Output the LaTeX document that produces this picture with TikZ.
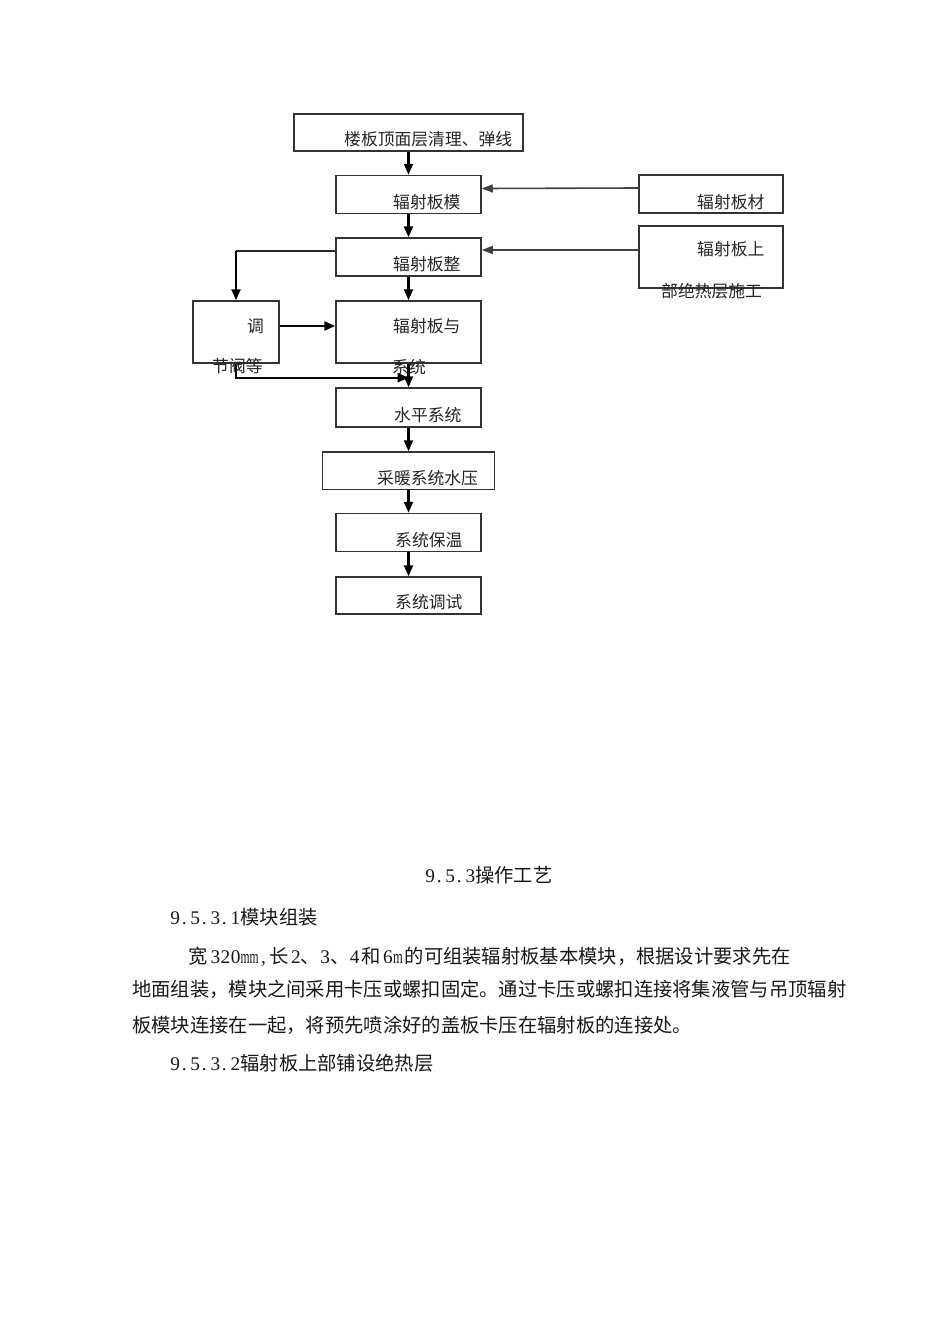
\documentclass[tikz,border=0pt]{standalone}
\usepackage{fontspec}
\setmainfont{Liberation Serif}
\newfontfamily\cjk{Noto Sans CJK SC}
\usetikzlibrary{arrows.meta,calc}
\def\hwchar#1{\ifx.#1\makebox[0.52em][l]{\rmfamily\hspace{0.08em}.}\else\makebox[0.52em][c]{\rmfamily#1}\fi}
\def\hwloop#1{\ifx\relax#1\else\hwchar{#1}\expandafter\hwloop\fi}
\newcommand\half[1]{\hwloop#1\relax}
\def\sploop#1{\ifx\relax#1\else#1\hspace{0pt plus 1fil}\expandafter\sploop\fi}
\newcommand\spreadline[2]{\hbox to #1{\sploop#2\relax\unskip}}
\begin{document}
\begin{tikzpicture}[x=1pt,y=-1pt,
  box/.style={draw=black!80, line width=1.5pt, inner sep=0pt, minimum width=145pt},
  lbl/.style={anchor=west, inner sep=0pt, font=\cjk\fontsize{16.8}{20}\selectfont, text=black!85},
  body/.style={anchor=west, inner sep=0pt, font=\cjk\fontsize{19.3}{23}\selectfont, text=black!90},
  arr/.style={draw=black, line width=2.2pt, -{Triangle[length=11pt,width=9pt]}},
  arrg/.style={draw=black!75, line width=1.6pt, -{Triangle[length=11pt,width=8pt]}},
  arrt/.style={draw=black!85, line width=1.5pt},
]
\fill[white] (0,0) rectangle (950,1344);
\useasboundingbox (0,0) rectangle (950,1344);

% boxes
\node[box, minimum width=229pt, minimum height=37pt] (b1) at (408.5,132.5) {};
\node[box, minimum height=38pt] (b2) at (408.5,194.5) {};
\node[box, minimum height=38pt] (b3) at (408.5,257) {};
\node[box, minimum width=86pt, minimum height=62pt] (b4) at (236,332) {};
\node[box, minimum height=62pt] (b5) at (408.5,332) {};
\node[box, minimum height=39pt] (b6) at (408.5,407.5) {};
\node[box, minimum width=172pt, minimum height=37.5pt] (b7) at (408.5,470.75) {};
\node[box, minimum height=38pt] (b8) at (408.5,532.5) {};
\node[box, minimum height=37pt] (b9) at (408.5,595.5) {};
\node[box, minimum width=144pt, minimum height=38pt] (r1) at (711,194) {};
\node[box, minimum width=144pt, minimum height=62pt] (r2) at (711,257) {};

% connectors
\draw[arr] (b1.south) -- (b2.north);
\draw[arr] (b2.south) -- (b3.north);
\draw[arr] (b3.south) -- (b5.north);
\coordinate (k) at ([yshift=6pt]b3.west -| b4.north);
\draw[arrt] ([yshift=6pt]b3.west) -- (k);
\draw[arr] (k) -- (b4.north);
\draw[arr] ([yshift=6pt]b4.east) -- ([yshift=6pt]b5.west);
\coordinate (j) at ([yshift=-14pt]b5.south);
\draw[arr] (b5.south) -- (b6.north);
\draw[arr] (b4.south) |- (j);
\draw[arr] (b6.south) -- (b7.north);
\draw[arr] (b7.south) -- (b8.north);
\draw[arr] (b8.south) -- (b9.north);
\draw[arrg] ([yshift=6pt]r1.west) -- ([yshift=6pt]b2.east);
\draw[arrg] ([yshift=7pt]r2.west) -- ([yshift=7pt]b3.east);

% labels
\node[lbl] (t1) at (344,139) {楼板顶面层清理、弹线};
\node[lbl] (t2) at (393,202.5) {辐射板模};
\node[lbl] (t3) at (393,264) {辐射板整};
\node[lbl] (t4) at (247,326) {调};
\node[lbl] (t4b) at (212,366.5) {节阀等};
\node[lbl] (t5) at (393,326) {辐射板与};
\node[lbl] (t5b) at (392,367) {系统};
\node[lbl] (t6) at (394,415) {水平系统};
\node[lbl] (t7) at (377,478) {采暖系统水压};
\node[lbl] (t8) at (395,540) {系统保温};
\node[lbl] (t9) at (395,602) {系统调试};
\node[lbl] (tr1) at (697,202.5) {辐射板材};
\node[lbl] (tr2) at (697,249) {辐射板上};
\node[lbl] (tr2b) at (661,291.5) {部绝热层施工};

% body text
\node[body] (p1) at (425,875) {\half{9.5.3}操作工艺};
\node[body] (p2) at (170,917) {\half{9.5.3.1}模块组装};
\node[body] (p3) at (188,957) {宽\hspace{3pt}\half{320}{\rmfamily\scalebox{0.6}[1]{mm}}\half{,}\hspace{1pt}长\hspace{2pt}\half{2}、\half{3}、\half{4}\hspace{2pt}和\hspace{2pt}\half{6}{\rmfamily\scalebox{0.65}[1]{m}}\hspace{2pt}的可组装辐射板基本模块，根据设计要求先在};
\node[body] (p4) at (132,989) {\spreadline{707pt}{地面组装，模块之间采用卡压或螺扣固定。通过卡压或螺扣连接将集液管与吊顶辐射}};
\node[body] (p5) at (132,1025) {板模块连接在一起，将预先喷涂好的盖板卡压在辐射板的连接处。};
\node[body] (p6) at (170,1063) {\half{9.5.3.2}辐射板上部铺设绝热层};
\end{tikzpicture}
\end{document}
